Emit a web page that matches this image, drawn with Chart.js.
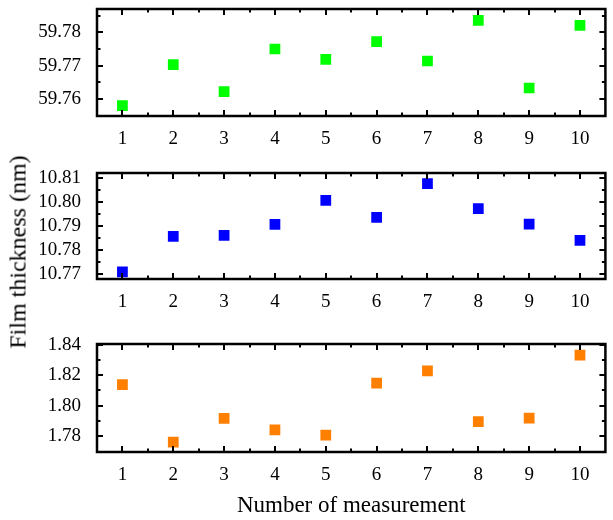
<!DOCTYPE html>
<html>
<head>
<meta charset="utf-8">
<script src="https://cdn.jsdelivr.net/npm/chart.js@4"></script>
<style>
  html, body { margin: 0; padding: 0; background: #fff; }
  #wrap { position: relative; width: 613px; height: 520px; overflow: hidden; }
  #wrap canvas { position: absolute; left: 0; }
  #ytitle {
    position: absolute; left: 18px; top: 252px;
    transform: translate(-50%, -50%) rotate(-90deg);
    white-space: nowrap;
    font-family: 'Liberation Serif', 'Times New Roman', serif;
    font-size: 24px; color: #000;
  }
</style>
</head>
<body>
<div id="wrap">
  <canvas id="c1" width="613" height="150" style="top:0px"></canvas>
  <canvas id="c2" width="613" height="153" style="top:160px"></canvas>
  <canvas id="c3" width="613" height="190" style="top:330px"></canvas>
  <div id="ytitle">Film thickness (nm)</div>
</div>
<script>
// ── Data ──
const measurement = [1, 2, 3, 4, 5, 6, 7, 8, 9, 10];
const xTicks = [1, 2, 3, 4, 5, 6, 7, 8, 9, 10];
const xMinor = [1.5, 2.5, 3.5, 4.5, 5.5, 6.5, 7.5, 8.5, 9.5];

const thickTop = [59.758, 59.7703, 59.7622, 59.7750, 59.7719, 59.7772, 59.7714, 59.7836, 59.7633, 59.7821];
const thickMid = [10.7710, 10.7857, 10.7861, 10.7907, 10.8006, 10.7936, 10.8075, 10.7972, 10.7908, 10.7841];
const thickBot = [1.8139, 1.7759, 1.7915, 1.7839, 1.7804, 1.8148, 1.8230, 1.7893, 1.7917, 1.8333];

const yTicksTop = [59.76, 59.77, 59.78];
const yMinorTop = [59.765, 59.775, 59.785];
const yTicksMid = [10.77, 10.78, 10.79, 10.80, 10.81];
const yMinorMid = [10.775, 10.785, 10.795, 10.805];
const yTicksBot = [1.78, 1.80, 1.82, 1.84];
const yMinorBot = [1.79, 1.81, 1.83];

const FONT = "'Liberation Serif', 'Times New Roman', serif";

// ── Frame with inward ticks on all four sides ──
const framePlugin = {
  id: 'frame',
  afterDraw(chart, args, opts) {
    const { ctx, chartArea: a, scales } = chart;
    const sx = scales.x, sy = scales.y;
    ctx.save();
    ctx.strokeStyle = '#000';
    ctx.lineWidth = 2;
    ctx.lineCap = 'butt';
    ctx.beginPath();
    const tick = (vals, len, horiz) => {
      vals.forEach(v => {
        if (horiz) {
          const px = Math.round(sx.getPixelForValue(v));
          ctx.moveTo(px, a.bottom); ctx.lineTo(px, a.bottom - len);
          ctx.moveTo(px, a.top); ctx.lineTo(px, a.top + len);
        } else {
          const py = Math.round(sy.getPixelForValue(v));
          ctx.moveTo(a.left, py); ctx.lineTo(a.left + len, py);
          ctx.moveTo(a.right, py); ctx.lineTo(a.right - len, py);
        }
      });
    };
    tick(xTicks, 6, true);
    tick(xMinor, 3.5, true);
    tick(opts.major, 6, false);
    tick(opts.minor, 3.5, false);
    ctx.stroke();
    ctx.lineWidth = 2.5;
    ctx.strokeRect(a.left, a.top, a.right - a.left, a.bottom - a.top);
    ctx.restore();
  }
};

function noPad(s) {
  s.paddingTop = 0; s.paddingBottom = 0; s.paddingLeft = 0; s.paddingRight = 0;
}

function makePanel(id, values, color, yMin, yMax, yTicks, yMinor, padTop, xHeight, showTitle) {
  new Chart(document.getElementById(id), {
    type: 'scatter',
    data: {
      datasets: [{
        data: measurement.map((m, i) => ({ x: m, y: values[i] })),
        pointStyle: 'rect',
        pointRadius: 7.6,
        pointHoverRadius: 7.6,
        backgroundColor: color,
        borderColor: color,
        borderWidth: 0
      }]
    },
    options: {
      responsive: false,
      animation: false,
      layout: { padding: { top: padTop, right: 3, left: 0, bottom: 0 } },
      plugins: {
        legend: { display: false },
        tooltip: { enabled: false },
        frame: { major: yTicks, minor: yMinor }
      },
      scales: {
        x: {
          type: 'linear',
          min: 0.5,
          max: 10.5,
          grid: { display: false },
          border: { display: false },
          afterBuildTicks: s => { s.ticks = xTicks.map(v => ({ value: v })); },
          afterFit: s => { s.height = xHeight; noPad(s); },
          ticks: {
            padding: 4,
            color: '#000',
            autoSkip: false,
            maxRotation: 0,
            font: { family: FONT, size: 19 },
            callback: v => String(v)
          },
          title: {
            display: showTitle,
            text: 'Number of measurement',
            color: '#000',
            font: { family: FONT, size: 23 },
            padding: { top: 0, bottom: 0 }
          }
        },
        y: {
          min: yMin,
          max: yMax,
          grid: { display: false },
          border: { display: false },
          afterBuildTicks: s => { s.ticks = yTicks.map(v => ({ value: v })); },
          afterFit: s => { s.width = 97; noPad(s); },
          ticks: {
            padding: 8,
            color: '#000',
            font: { family: FONT, size: 19 },
            callback: v => v.toFixed(2)
          }
        }
      }
    },
    plugins: [framePlugin]
  });
}

makePanel('c1', thickTop, '#00ff00', 59.7549, 59.7870, yTicksTop, yMinorTop, 9, 34, false);
makePanel('c2', thickMid, '#0000ff', 10.7681, 10.8119, yTicksMid, yMinorMid, 13, 34, false);
makePanel('c3', thickBot, '#ff7f00', 1.7693, 1.8407, yTicksBot, yMinorBot, 14, 68, true);
</script>
</body>
</html>
